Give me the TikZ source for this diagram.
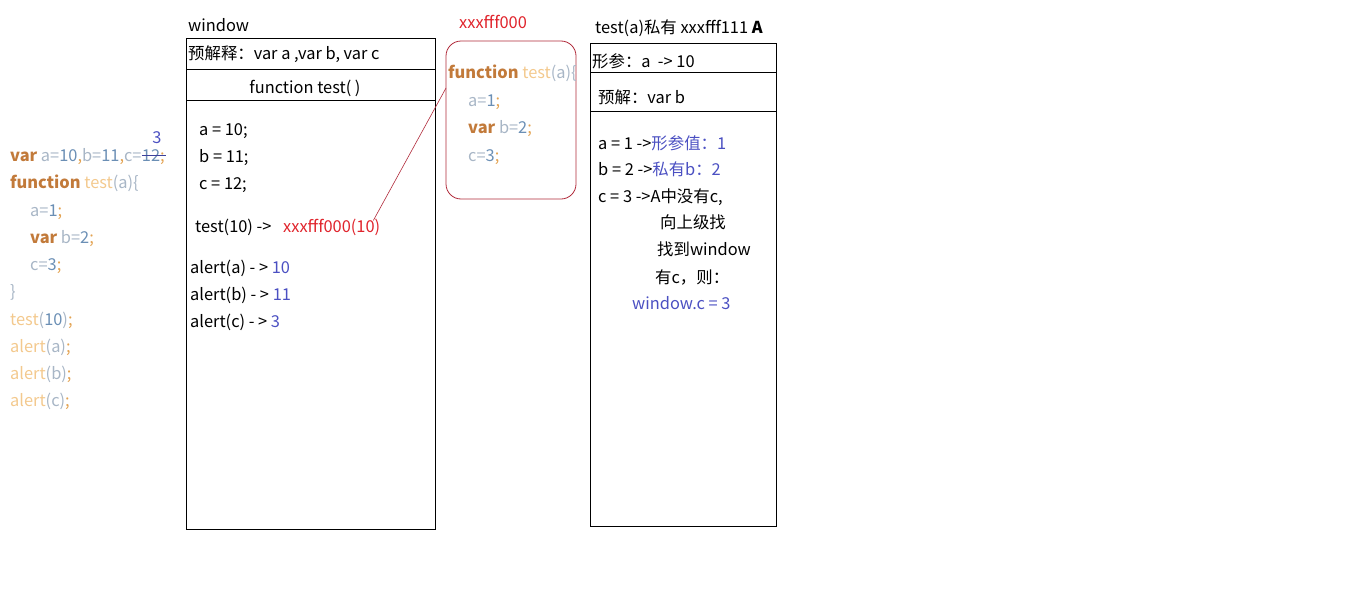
\documentclass[tikz,border=0pt]{standalone}
\usepackage{fontspec}
\setmainfont{Noto Sans CJK SC}
\usetikzlibrary{positioning}
\definecolor{kwcol}{HTML}{C27A3A}
\definecolor{fncol}{HTML}{F3C98E}
\definecolor{idcol}{HTML}{A8B6C6}
\definecolor{nmcol}{HTML}{6B8FB5}
\definecolor{pucol}{HTML}{E3A352}
\definecolor{bluecol}{HTML}{4B50C2}
\definecolor{redcol}{HTML}{E0242C}
\definecolor{boxred}{HTML}{B02A3A}
\newcommand{\kw}[1]{\textcolor{kwcol}{\textbf{#1}}}
\newcommand{\fn}[1]{\textcolor{fncol}{#1}}
\newcommand{\id}[1]{\textcolor{idcol}{#1}}
\newcommand{\nm}[1]{\textcolor{nmcol}{#1}}
\newcommand{\pu}[1]{\textcolor{pucol}{#1}}
\newcommand{\bl}[1]{\textcolor{bluecol}{#1}}
\begin{document}
\begin{tikzpicture}[x=1pt,y=-1pt,
    txt/.style={font=\fontsize{16.4pt}{19pt}\selectfont,inner sep=0pt,anchor=base west},
    frame/.style={draw=black,line width=0.8pt},
    fnbox/.style={draw=boxred,line width=0.8pt,rounded corners=15pt,minimum width=130pt,minimum height=158pt,inner sep=0pt},
    redline/.style={draw=boxred,line width=0.6pt}]
  \useasboundingbox (0,0) rectangle (1360,605);
  % code on the left
  \node[txt] (v1) at (10,161) {\kw{var} \id{a=}\nm{10}\pu{,}\id{b=}\nm{11}\pu{,}\id{c=}};
  \node[txt] (v12) at (v1.base east) {\nm{12}\pu{;}};
  \draw[bluecol!80!black,line width=0.6pt] ([yshift=5.5pt]v12.base west) -- ([xshift=1pt,yshift=5.5pt]v12.base east);
  \node[txt,anchor=base,text=bluecol] (v3) at (157,143) {3};
  \node[txt] (l2) at (10,188) {\kw{function} \fn{test}\id{(a)\{}};
  \node[txt] (l3) at (30,216) {\id{a=}\nm{1}\pu{;}};
  \node[txt] (l4) at (30,243) {\kw{var} \id{b=}\nm{2}\pu{;}};
  \node[txt] (l5) at (30,270) {\id{c=}\nm{3}\pu{;}};
  \node[txt] (l6) at (10,297) {\id{\}}};
  \node[txt] (l7) at (10,325) {\fn{test}\id{(}\nm{10}\id{)}\pu{;}};
  \node[txt] (l8) at (10,352) {\fn{alert}\id{(a)}\pu{;}};
  \node[txt] (l9) at (10,379) {\fn{alert}\id{(b)}\pu{;}};
  \node[txt] (l10) at (10,406) {\fn{alert}\id{(c)}\pu{;}};
  % window
  \node[txt] (win) at (188,31) {window};
  \draw[frame] (186,38) rectangle (435,529);
  \draw[frame] (186,69) -- (435,69);
  \draw[frame] (186,100) -- (435,100);
  \node[txt] (wpre) at (188,59) {预解释：var a ,var b, var c};
  \node[txt,anchor=base] (wfn) at (305,93) {function test( )};
  \node[txt] (wa) at (199,135) {a = 10;};
  \node[txt] (wb) at (199,162) {b = 11;};
  \node[txt] (wc) at (199,189) {c = 12;};
  \node[txt] (call) at (195,232) {test(10) ->};
  \node[txt,text=redcol] (xcall) at (283,232) {xxxfff000(10)};
  \node[txt] (aa) at (190,273) {alert(a) - > \bl{10}};
  \node[txt] (ab) at (190,300) {alert(b) - > \bl{11}};
  \node[txt] (ac) at (190,327) {alert(c) - > \bl{3}};
  % function object
  \node[txt,text=redcol] (addr) at (459,28) {xxxfff000};
  \node[fnbox] (fbox) at (511,120) {};
  \node[txt] (f1) at (448,78) {\kw{function} \fn{test}\id{(a)\{}};
  \node[txt] (f2) at (468,106) {\id{a=}\nm{1}\pu{;}};
  \node[txt] (f3) at (468,133) {\kw{var} \id{b=}\nm{2}\pu{;}};
  \node[txt] (f4) at (468,161) {\id{c=}\nm{3}\pu{;}};
  \coordinate (hook) at (446,88);
  \draw[redline] (xcall.north east) ++(-7,2) coordinate (tail) -- (hook);
  % private scope A
  \node[txt] (atitle) at (595,33) {test(a)私有 xxxfff111 \textbf{A}};
  \draw[frame] (590,43) rectangle (776,526);
  \draw[frame] (590,72) -- (776,72);
  \draw[frame] (590,111) -- (776,111);
  \node[txt] (apar) at (592,67) {形参：a \ -> 10};
  \node[txt] (apre) at (598,103) {预解：var b};
  \node[txt] (r1) at (598,149) {a = 1 ->\bl{形参值：1}};
  \node[txt] (r2) at (598,175) {b = 2 ->\bl{私有b：2}};
  \node[txt] (r3) at (598,202) {c = 3 ->A中没有c,};
  \node[txt] (r4) at (660,228) {向上级找};
  \node[txt] (r5) at (657,255) {找到window};
  \node[txt] (r6) at (655,283) {有c，则：};
  \node[txt,text=bluecol] (r7) at (632,309) {window.c = 3};
\end{tikzpicture}
\end{document}
